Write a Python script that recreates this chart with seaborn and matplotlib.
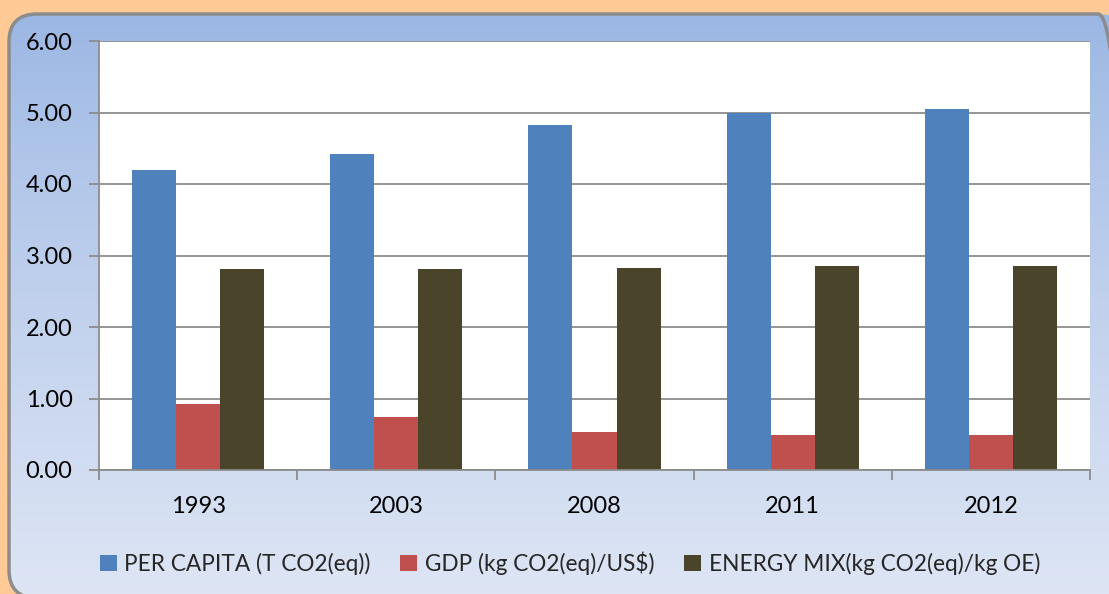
import numpy as np
import pandas as pd
import seaborn as sns
import matplotlib.pyplot as plt
from matplotlib.patches import FancyBboxPatch, Patch

years = ["1993", "2003", "2008", "2011", "2012"]
series = ["PER CAPITA (T CO2(eq))", "GDP (kg CO2(eq)/US$)", "ENERGY MIX(kg CO2(eq)/kg OE)"]
per_capita = [4.20, 4.42, 4.83, 5.00, 5.05]
gdp = [0.93, 0.74, 0.53, 0.49, 0.49]
energy_mix = [2.81, 2.81, 2.83, 2.85, 2.85]
colors = ["#4F81BD", "#C0504D", "#4A452A"]

df = pd.DataFrame({
    "year": years * 3,
    "series": [series[0]] * 5 + [series[1]] * 5 + [series[2]] * 5,
    "value": per_capita + gdp + energy_mix,
})

sns.set_style("white")
plt.rcParams['font.family'] = ['Lato', 'DejaVu Sans']

W, H = 1109, 594
fig = plt.figure(figsize=(W / 100, H / 100), dpi=100)
fig.patch.set_facecolor("#FFCA96")

# gradient panel with rounded corners
bg = fig.add_axes([0, 0, 1, 1], zorder=0)
bg.set_xlim(0, W)
bg.set_ylim(0, H)
bg.axis("off")
grad = np.linspace(0, 1, 256).reshape(-1, 1)
top = np.array([0.60, 0.71, 0.89])
bot = np.array([0.87, 0.90, 0.96])
img = top + (bot - top) * grad[..., None] ** 0.8
img = img.reshape(256, 1, 3)
im = bg.imshow(img, extent=[8, W + 30, -6, H - 10], aspect="auto", origin="upper")
box = FancyBboxPatch((9, -4), W + 8, H - 14 + 4, boxstyle="round,pad=0,rounding_size=28",
                     facecolor="none", edgecolor="#8C8C8C", lw=2.5)
bg.add_patch(box)
im.set_clip_path(box)

ax = fig.add_axes([99 / W, (H - 470) / H, (1090 - 99) / W, (470 - 41) / H], zorder=1)
ax.set_facecolor("white")
sns.barplot(data=df, x="year", y="value", hue="series", palette=colors,
            width=0.667, gap=0, ax=ax, legend=False, saturation=1,
            edgecolor="none")

ax.set_ylim(0, 6)
ax.set_xlim(-0.5, 4.5)
ax.set_yticks(np.arange(0, 6.01, 1))
ax.set_yticklabels([f"{v:.2f}" for v in np.arange(0, 6.01, 1)])
ax.yaxis.grid(True, color="#8C8C8C", lw=1.3)
ax.set_axisbelow(True)
ax.set_xlabel("")
ax.set_ylabel("")
for s in ["top", "right"]:
    ax.spines[s].set_visible(False)
for s in ["left", "bottom"]:
    ax.spines[s].set_color("#8C8C8C")
    ax.spines[s].set_linewidth(1.3)
ax.tick_params(axis="y", left=True, length=7, width=1.3, color="#8C8C8C",
               labelsize=17, pad=12, labelcolor="black")
ax.tick_params(axis="x", which="major", bottom=False, labelsize=17, pad=15, labelcolor="black")
ax.set_xticks(np.arange(-0.5, 4.6, 1), minor=True)
ax.tick_params(axis="x", which="minor", bottom=True, length=7, width=1.3, color="#8C8C8C")

handles = [Patch(facecolor=c, edgecolor="none") for c in colors]
fig.legend(handles, series, loc="center", bbox_to_anchor=(570 / W, 1 - 563 / H), ncol=3,
           frameon=False, fontsize=16.3, handlelength=0.75, handleheight=0.75,
           handletextpad=0.35, columnspacing=1.3)

fig.savefig("out.png", dpi=100, facecolor=fig.get_facecolor())
